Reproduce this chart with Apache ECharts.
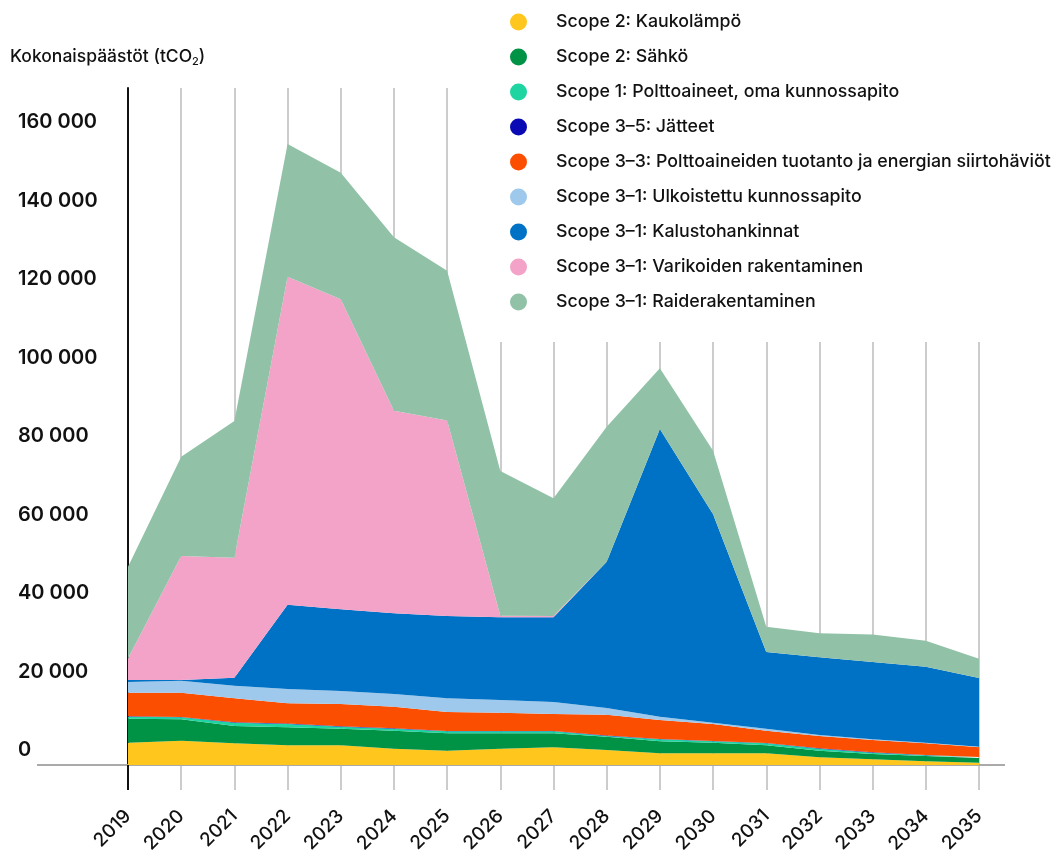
<!DOCTYPE html>
<html>
<head>
<meta charset="utf-8">
<title>Kokonaispäästöt</title>
<script src="https://cdn.jsdelivr.net/npm/echarts@6/dist/echarts.min.js"></script>
<style>
	html, body { margin: 0; padding: 0; background: #fff; }
	#main { width: 1057px; height: 850px; }
</style>
</head>
<body>
<div id="main"></div>
<script>
// vuodet
var years = ['2019', '2020', '2021', '2022', '2023', '2024', '2025', '2026', '2027',
	'2028', '2029', '2030', '2031', '2032', '2033', '2034', '2035'];

// päästöt tCO2, alimmasta kerroksesta ylöspäin
var kaukolampo = [5680, 6190, 5530, 5020, 5020, 4150, 3640, 4150, 4510, 3820, 2980, 2980, 2980, 1950, 1440, 930, 590];
var sahko = [6110, 5450, 4410, 4590, 4230, 4590, 4430, 3920, 3570, 3390, 3060, 2700, 2040, 1700, 1360, 1360, 1190];
var polttoaineetOma = [510, 510, 840, 840, 510, 510, 510, 510, 510, 180, 510, 360, 510, 510, 340, 170, 170];
var jatteet = [100, 100, 100, 100, 100, 100, 100, 100, 100, 100, 100, 100, 100, 100, 100, 100, 100];
var polttoaineidenTuotanto = [6000, 6170, 6120, 5170, 5680, 5510, 4820, 4640, 4310, 5330, 4820, 4310, 3110, 3130, 3130, 2960, 2450];
var ulkoistettu = [2720, 3060, 3210, 3640, 3310, 3240, 3490, 3240, 3060, 1710, 840, 330, 510, 250, 170, 170, 170];
var kalusto = [510, 200, 2040, 21480, 20820, 20560, 20970, 21070, 21580, 37270, 73300, 53100, 19540, 19790, 19710, 19360, 17500];
var varikot = [5530, 31590, 30570, 83570, 78980, 51620, 49810, 410, 330, 0, 0, 0, 0, 0, 0, 0, 0];
var raide = [23340, 25300, 34830, 33810, 32260, 44180, 38170, 36870, 29990, 34400, 15470, 16200, 6450, 6120, 6970, 6620, 4930];

// y-akselin asteikko
var yTickValues = [0, 20000, 40000, 60000, 80000, 100000, 120000, 140000, 160000];

var seriesNames = [
	'Scope 2: Kaukolämpö',
	'Scope 2: Sähkö',
	'Scope 1: Polttoaineet, oma kunnossapito',
	'Scope 3–5: Jätteet',
	'Scope 3–3: Polttoaineiden tuotanto ja energian siirtohäviöt',
	'Scope 3–1: Ulkoistettu kunnossapito',
	'Scope 3–1: Kalustohankinnat',
	'Scope 3–1: Varikoiden rakentaminen',
	'Scope 3–1: Raiderakentaminen'
];
var seriesColors = ['#FFC61E', '#009245', '#1ED5A2', '#0A0AB4', '#FC4E00', '#9EC9EC', '#0072C6', '#F4A3C8', '#91C2A7'];
var seriesData = [kaukolampo, sahko, polttoaineetOma, jatteet, polttoaineidenTuotanto, ulkoistettu, kalusto, varikot, raide];

var fontName = 'Inter, "Noto Sans", sans-serif';

function formatThousands(v) {
	return String(v).replace(/\B(?=(\d{3})+(?!\d))/g, ' ');
}

function initAreaSeries(serName, dataList, color) {
	return {
		name : serName,
		type : 'line',
		stack : 'total',
		data : dataList,
		symbol : 'none',
		showSymbol : false,
		color : color,
		lineStyle : { width : 0 },
		areaStyle : { color : color, opacity : 1 }
	};
}

function initOption() {
	var series = [];
	for (var i = 0; i < seriesNames.length; i++) {
		series.push(initAreaSeries(seriesNames[i], seriesData[i], seriesColors[i]));
	}
	return {
		animation : false,
		textStyle : { fontFamily : fontName },
		title : {
			text : 'Kokonaispäästöt (tCO{sub|2})',
			left : 5,
			top : 42,
			textStyle : {
				fontSize : 17.5,
				fontWeight : 500,
				color : '#111',
				fontFamily : fontName,
				rich : {
					sub : { fontSize : 11, fontWeight : 500, color : '#111', padding : [9, 0, 0, 0], fontFamily : fontName }
				}
			}
		},
		legend : {
			orient : 'vertical',
			left : 495,
			top : 0,
			padding : [13, 10, 31, 15],
			backgroundColor : '#fff',
			icon : 'circle',
			itemWidth : 17,
			itemHeight : 17,
			itemGap : 17,
			data : seriesNames,
			textStyle : {
				fontSize : 17.8,
				fontWeight : 500,
				color : '#111',
				fontFamily : fontName,
				padding : [0, 0, 0, 24]
			}
		},
		grid : {
			left : 128,
			right : 78,
			top : 88,
			bottom : 85,
			outerBoundsMode : 'none',
			containLabel : false
		},
		xAxis : {
			type : 'category',
			data : years,
			boundaryGap : false,
			axisLine : { show : true, lineStyle : { color : '#aaa', width : 2 } },
			axisTick : { show : true, length : 25, lineStyle : { color : '#ccc', width : 2 } },
			splitLine : { show : true, lineStyle : { color : '#ccc', width : 2 } },
			axisLabel : {
				rotate : 45,
				margin : 48,
				fontSize : 19,
				fontWeight : 500,
				color : '#111',
				fontFamily : fontName
			}
		},
		yAxis : {
			type : 'value',
			min : yTickValues[0],
			max : 172500,
			interval : 20000,
			axisLine : { show : true, lineStyle : { color : '#111', width : 2 } },
			axisTick : { show : false },
			splitLine : { show : false },
			axisLabel : {
				align : 'left',
				verticalAlign : 'bottom',
				margin : 110,
				fontSize : 20,
				fontWeight : 600,
				color : '#111',
				fontFamily : fontName,
				lineHeight : 20,
				padding : [0, 0, 5, 0],
				formatter : function(v) {
					return yTickValues.indexOf(v) >= 0 ? formatThousands(v) : '';
				}
			}
		},
		graphic : [{
			// vaakaviiva nollatasolla koko leveydeltä
			type : 'line',
			shape : { x1 : 37, y1 : 765, x2 : 1005, y2 : 765 },
			style : { stroke : '#aaa', lineWidth : 2 },
			z : 1
		}, {
			// 2019 pystyviivan jatke akselin alle
			type : 'line',
			shape : { x1 : 128, y1 : 765, x2 : 128, y2 : 790 },
			style : { stroke : '#111', lineWidth : 2 },
			z : 2
		}],
		series : series
	};
}

var myChart = echarts.init(document.getElementById('main'), null, { renderer : 'canvas' });
myChart.setOption(initOption(), true);
</script>
</body>
</html>
